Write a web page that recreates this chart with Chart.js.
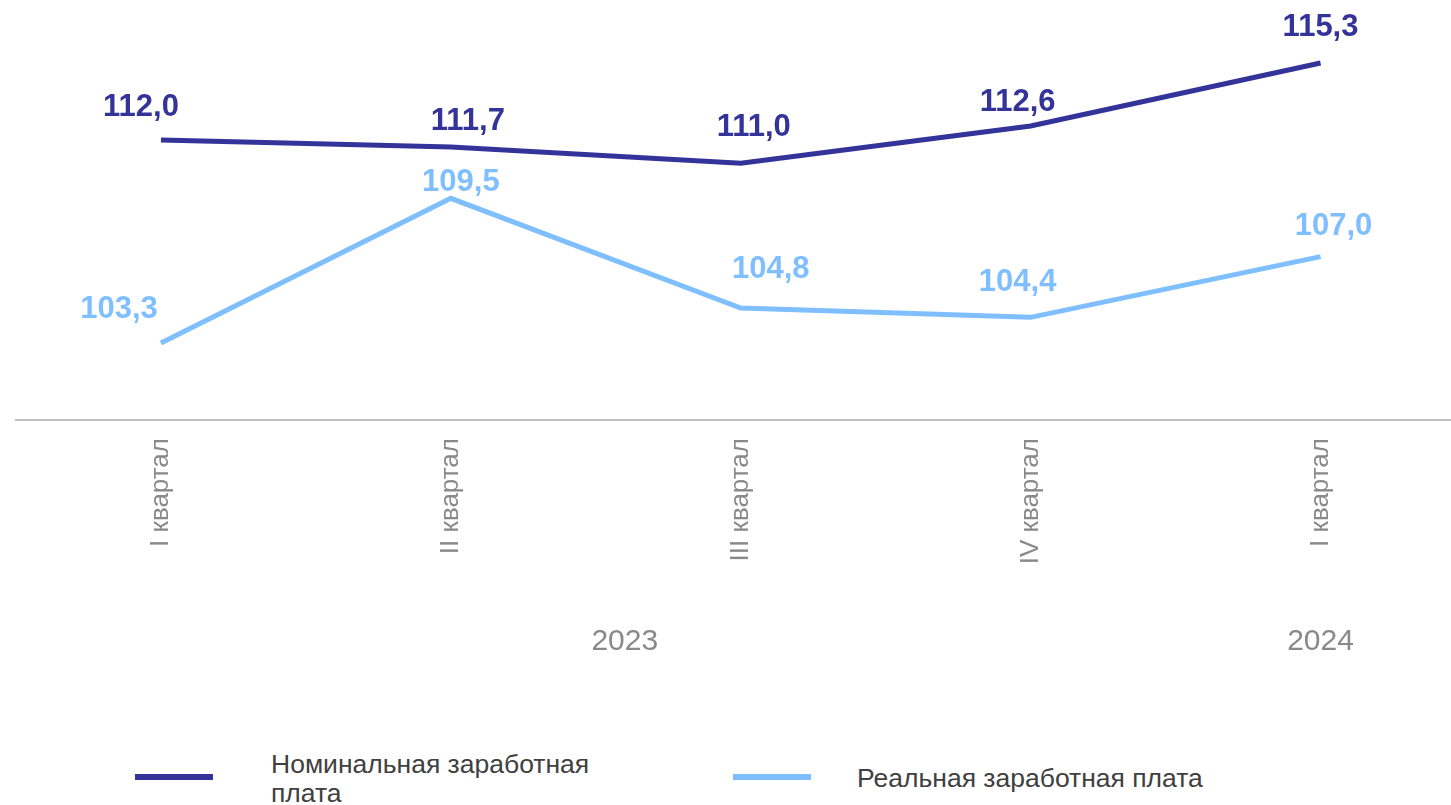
<!DOCTYPE html>
<html lang="ru">
<head>
<meta charset="utf-8">
<title>Номинальная и реальная заработная плата</title>
<script src="https://cdn.jsdelivr.net/npm/chart.js@4.4.1/dist/chart.umd.min.js"></script>
<style>
  html, body { margin: 0; padding: 0; background: #fff; overflow: hidden; }
  #wrap { position: relative; width: 1451px; height: 805px; font-family: "Liberation Sans", Arial, sans-serif; }
  #chart { position: absolute; left: 0; top: 0; }
  .swatch { position: absolute; height: 6px; width: 78px; }
  .legend-text { position: absolute; font-size: 26.5px; line-height: 29px; color: #404040; }
</style>
</head>
<body>
<div id="wrap">
  <canvas id="chart" width="1451" height="700"></canvas>
  <div class="swatch" style="left:135px; top:774px; background:#333399;"></div>
  <div class="legend-text" style="left:271px; top:750px; width:330px;">Номинальная заработная плата</div>
  <div class="swatch" style="left:733px; top:774px; background:#7FBFFF;"></div>
  <div class="legend-text" style="left:857px; top:764px;">Реальная заработная плата</div>
</div>
<script>
// quarters, % to same quarter of previous year
const quarters = ["I квартал", "II квартал", "III квартал", "IV квартал", "I квартал"];
const nominalWage = [112.0, 111.7, 111.0, 112.6, 115.3];
const realWage = [103.3, 109.5, 104.8, 104.4, 107.0];
const years = ["2023", "2024"];
const yearAt = [1.6, 4];

const DARK = "#333399";
const LIGHT = "#7FBFFF";
const FONT = "'Liberation Sans', Arial, sans-serif";

// label nudges (px) so numbers sit where the original put them
const labelShift = [
  [[-20, -33], [17, -26], [13, -36], [-13, -24], [0, -36]],
  [[-42, -34], [10, -16], [30, -39], [-13, -35], [13, -30]],
];

const fmt = v => v.toFixed(1).replace(".", ",");

const valueLabels = {
  id: "valueLabels",
  afterDatasetsDraw(chart) {
    const ctx = chart.ctx;
    ctx.save();
    ctx.font = `bold 31px ${FONT}`;
    ctx.textAlign = "center";
    ctx.textBaseline = "middle";
    chart.data.datasets.forEach((ds, di) => {
      const meta = chart.getDatasetMeta(di);
      ctx.fillStyle = ds.borderColor;
      meta.data.forEach((pt, i) => {
        const [dx, dy] = labelShift[di][i];
        ctx.fillText(fmt(ds.data[i].y), pt.x + dx, pt.y + dy);
      });
    });
    ctx.restore();
  },
};

const yearLabels = {
  id: "yearLabels",
  afterDraw(chart) {
    const ctx = chart.ctx;
    const x = chart.scales.x;
    ctx.save();
    ctx.font = `30px ${FONT}`;
    ctx.fillStyle = "#898989";
    ctx.textAlign = "center";
    ctx.textBaseline = "alphabetic";
    years.forEach((y, i) => ctx.fillText(y, x.getPixelForValue(yearAt[i]), 650));
    ctx.restore();
  },
};

new Chart(document.getElementById("chart"), {
  type: "line",
  data: {
    datasets: [
      {
        label: "Номинальная заработная плата",
        data: nominalWage.map((v, i) => ({ x: i, y: v })),
        borderColor: DARK,
        backgroundColor: DARK,
        borderWidth: 5,
        pointRadius: 0,
        tension: 0,
      },
      {
        label: "Реальная заработная плата",
        data: realWage.map((v, i) => ({ x: i, y: v })),
        borderColor: LIGHT,
        backgroundColor: LIGHT,
        borderWidth: 5,
        pointRadius: 0,
        tension: 0,
      },
    ],
  },
  options: {
    responsive: false,
    animation: false,
    devicePixelRatio: 1,
    layout: { padding: { left: 16, right: 0, top: 0, bottom: 0 } },
    scales: {
      x: {
        type: "linear",
        min: -0.5,
        max: 4.45,
        afterBuildTicks: scale => { scale.ticks = quarters.map((_, i) => ({ value: i })); },
        afterFit: scale => { scale.height = 280; },
        grid: { display: false, drawTicks: false },
        border: { display: true, color: "#c0c0c0", width: 2 },
        ticks: {
          autoSkip: false,
          minRotation: 90,
          maxRotation: 90,
          padding: 18,
          color: "#898989",
          font: { family: FONT, size: 26 },
          callback: v => quarters[v],
        },
      },
      y: {
        display: false,
        min: 100,
        max: 118,
      },
    },
    plugins: {
      legend: { display: false },
      tooltip: { enabled: false },
    },
  },
  plugins: [valueLabels, yearLabels],
});
</script>
</body>
</html>
